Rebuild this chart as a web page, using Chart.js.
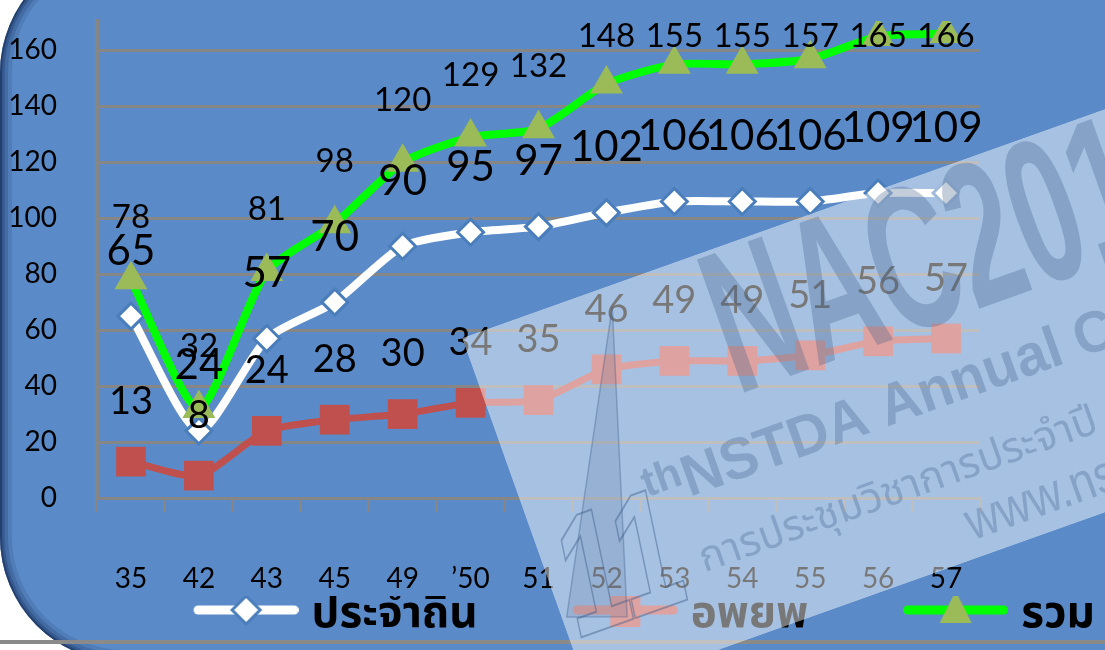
<!DOCTYPE html>
<html><head><meta charset="utf-8">
<script src="https://cdn.jsdelivr.net/npm/chart.js@4"></script>
<style>html,body{margin:0;padding:0;background:#fff;overflow:hidden}canvas{display:block}</style>
</head><body>
<canvas id="c" width="1105" height="650"></canvas>
<script>
// ---- data ----
const categories = ['35','42','43','45','49','\u201950','51','52','53','54','55','56','57'];
const residentValues = [65,24,57,70,90,95,97,102,106,106,106,109,109];
const migrantValues  = [13,8,24,28,30,34,35,46,49,49,51,56,57];
const totalValues    = [78,32,81,98,120,129,132,148,155,155,157,165,166];
const yTickValues    = [0,20,40,60,80,100,120,140,160];
const seriesNames    = ['ประจำถิ่น','อพยพ','รวม'];

// ---- styles ----
const NUM_FONT = 'Lato, "Noto Sans", sans-serif';
const THAI_FONT = '"Noto Sans Thai", "Loma", "Tahoma", "Noto Sans", sans-serif';
const BG = 'rgb(90,139,200)';
const GRID = 'rgb(134,134,134)';
const WHITE_BORDER = 'rgb(74,126,187)';
const RED = 'rgb(192,80,77)';
const GREEN_LINE = '#00ff00';
const GREEN_MARK = 'rgb(155,187,89)';
const labelStyles = [ {size: 42, dy: -65}, {size: 38, dy: -60}, {size: 33, dy: -62} ];
const LABEL_MIN_Y = 36;

const LEG_FONT = 44, LEG_BOX = 191;
function legendIcon(lineColor, drawMarker) {
  const c = document.createElement('canvas');
  const IW = LEG_BOX + LEG_FONT - 26;
  c.width = IW; c.height = 60;
  const g = c.getContext('2d');
  const cy = 22;
  g.strokeStyle = lineColor; g.lineWidth = 9; g.lineCap = 'round';
  g.beginPath(); g.moveTo(IW - 105 + 4.5, cy); g.lineTo(IW - 4.5, cy); g.stroke();
  drawMarker(g, IW - 52.5, cy);
  return c;
}
const legendIcons = [
  legendIcon('#ffffff', (g, x, y) => {
    g.beginPath(); g.moveTo(x, y - 14); g.lineTo(x + 14, y); g.lineTo(x, y + 14); g.lineTo(x - 14, y); g.closePath();
    g.fillStyle = '#fff'; g.fill(); g.lineWidth = 3; g.strokeStyle = WHITE_BORDER; g.stroke();
  }),
  legendIcon(RED, (g, x, y) => { g.fillStyle = RED; g.fillRect(x - 15, y - 17, 30, 34); }),
  legendIcon(GREEN_LINE, (g, x, y) => {
    g.fillStyle = GREEN_MARK; g.beginPath(); g.moveTo(x, y - 19); g.lineTo(x + 16, y + 13); g.lineTo(x - 16, y + 13); g.closePath(); g.fill();
  })
];

const backgroundPlugin = {
  id: 'frame',
  beforeDraw(chart) {
    const ctx = chart.ctx, W = chart.width, H = chart.height;
    ctx.save();
    ctx.fillStyle = '#fff'; ctx.fillRect(0, 0, W, H);
    const path = new Path2D();
    path.roundRect(0, -52, W + 200, H + 64, 125);
    ctx.fillStyle = BG; ctx.fill(path);
    ctx.clip(path);
    [[24, 'rgba(25,50,95,0.15)'], [16, 'rgba(25,50,95,0.22)'], [9, 'rgba(25,50,95,0.32)'], [4, 'rgba(20,40,80,0.5)']].forEach(([w, c]) => {
      ctx.lineWidth = w; ctx.strokeStyle = c; ctx.stroke(path);
    });
    ctx.restore();
    ctx.fillStyle = 'rgb(138,138,138)';
    ctx.fillRect(0, 640, W, 4);
  }
};

const dataLabelPlugin = {
  id: 'valueLabels',
  afterDatasetsDraw(chart) {
    const ctx = chart.ctx;
    ctx.save();
    ctx.fillStyle = '#000';
    ctx.textAlign = 'center';
    ctx.textBaseline = 'middle';
    chart.data.datasets.forEach((ds, i) => {
      const st = labelStyles[i];
      ctx.font = st.size + 'px ' + NUM_FONT;
      chart.getDatasetMeta(i).data.forEach((pt, j) => {
        ctx.fillText(String(ds.data[j]), pt.x, Math.max(pt.y + st.dy, LABEL_MIN_Y));
      });
    });
    ctx.restore();
  }
};

const watermarkPlugin = {
  id: 'watermark',
  afterDraw(chart) {
    const ctx = chart.ctx;
    ctx.save();
    ctx.translate(462, 338);
    ctx.rotate(-19.6 * Math.PI / 180);
    ctx.beginPath(); ctx.rect(0, 0, 900, 380); ctx.clip();
    ctx.fillStyle = 'rgba(255,255,255,0.47)';
    ctx.fillRect(0, 0, 900, 380);
    const ink = 'rgba(60,92,135,0.30)';
    ctx.textBaseline = 'alphabetic';
    // logo spike
    ctx.beginPath(); ctx.moveTo(152, 21); ctx.lineTo(5, 298); ctx.lineTo(62, 318); ctx.closePath();
    ctx.fillStyle = 'rgba(60,92,135,0.16)'; ctx.fill();
    ctx.strokeStyle = 'rgba(60,92,135,0.35)'; ctx.lineWidth = 1.5; ctx.stroke();
    ctx.fillStyle = ink;
    ctx.save(); ctx.scale(0.57, 1);
    ctx.font = 'bold 205px "Liberation Sans", sans-serif';
    ctx.fillText('NAC2015', 240 / 0.57, 146);
    ctx.restore();
    ctx.save(); ctx.scale(0.7, 1);
    ctx.strokeStyle = 'rgba(60,92,135,0.45)'; ctx.lineWidth = 2;
    ctx.font = 'italic bold 170px "Liberation Sans", sans-serif';
    ctx.strokeText('11', 10 / 0.7, 322);
    ctx.restore();
    ctx.font = 'bold 42px "Liberation Sans", sans-serif';
    ctx.fillText('th', 121, 212);
    ctx.save(); ctx.scale(0.97, 1);
    ctx.font = 'bold 58px "Liberation Sans", sans-serif';
    ctx.fillText('NSTDA Annual Conference', 161 / 0.97, 226);
    ctx.restore();
    ctx.font = '42px ' + THAI_FONT;
    ctx.fillText('การประชุมวิชาการประจำปี', 150, 302);
    ctx.save(); ctx.scale(0.85, 1);
    ctx.font = '54px "Liberation Sans", sans-serif';
    ctx.fillText('www.nstda.or.th', 413 / 0.85, 362);
    ctx.restore();
    ctx.restore();
  }
};

new Chart(document.getElementById('c'), {
  type: 'line',
  data: {
    labels: categories,
    datasets: [
      { label: seriesNames[0], data: residentValues, order: 2,
        borderColor: '#ffffff', borderWidth: 8, tension: 0.22,
        pointStyle: 'rectRot', pointRadius: 13, pointBackgroundColor: '#ffffff',
        pointBorderColor: WHITE_BORDER, pointBorderWidth: 3 },
      { label: seriesNames[1], data: migrantValues, order: 1,
        borderColor: RED, borderWidth: 7, tension: 0.22,
        pointStyle: 'rect', pointRadius: 21, pointBackgroundColor: RED,
        pointBorderColor: RED, pointBorderWidth: 0 },
      { label: seriesNames[2], data: totalValues, order: 0,
        borderColor: GREEN_LINE, borderWidth: 8, tension: 0.22,
        pointStyle: 'triangle', pointRadius: 19, pointBackgroundColor: GREEN_MARK,
        pointBorderColor: GREEN_MARK, pointBorderWidth: 0 }
    ]
  },
  options: {
    responsive: false,
    animation: false,
    devicePixelRatio: 1,
    layout: { padding: { left: 0, top: 16, right: 10, bottom: 0 } },
    plugins: {
      tooltip: { enabled: false },
      legend: {
        position: 'bottom', align: 'end',
        labels: {
          usePointStyle: true, pointStyleWidth: LEG_BOX, padding: 0,
          color: '#000',
          font: { family: THAI_FONT, size: LEG_FONT, weight: 'bold' },
          generateLabels: (chart) => chart.data.datasets.map((ds, i) => ({
            text: ds.label, pointStyle: legendIcons[i], fillStyle: 'transparent',
            strokeStyle: 'transparent', lineWidth: 0, hidden: false, datasetIndex: i, fontColor: '#000'
          }))
        }
      }
    },
    scales: {
      x: {
        offset: true,
        grid: { display: true, drawOnChartArea: false, drawTicks: true, tickLength: 14, offset: true, color: GRID, lineWidth: 3 },
        border: { display: true, color: GRID, width: 3 },
        ticks: { color: '#000', padding: 50, font: { family: NUM_FONT, size: 28 }, maxRotation: 0, autoSkip: false },
        afterFit: (s) => { s.height = 98; }
      },
      y: {
        min: 0, max: 170.5,
        afterBuildTicks: (s) => { s.ticks = yTickValues.map(v => ({ value: v })); },
        grid: { color: GRID, lineWidth: 3, drawTicks: true, tickLength: 40, tickColor: 'rgba(0,0,0,0)' },
        border: { display: true, color: GRID, width: 4 },
        ticks: { color: '#000', padding: 0, font: { family: NUM_FONT, size: 28 } },
        afterFit: (s) => { s.width = 97; }
      },
      yR: {
        position: 'right', display: true,
        grid: { display: false }, border: { display: false }, ticks: { display: false },
        afterFit: (s) => { s.width = 115; }
      }
    }
  },
  plugins: [backgroundPlugin, dataLabelPlugin, watermarkPlugin]
});
</script>
</body></html>
